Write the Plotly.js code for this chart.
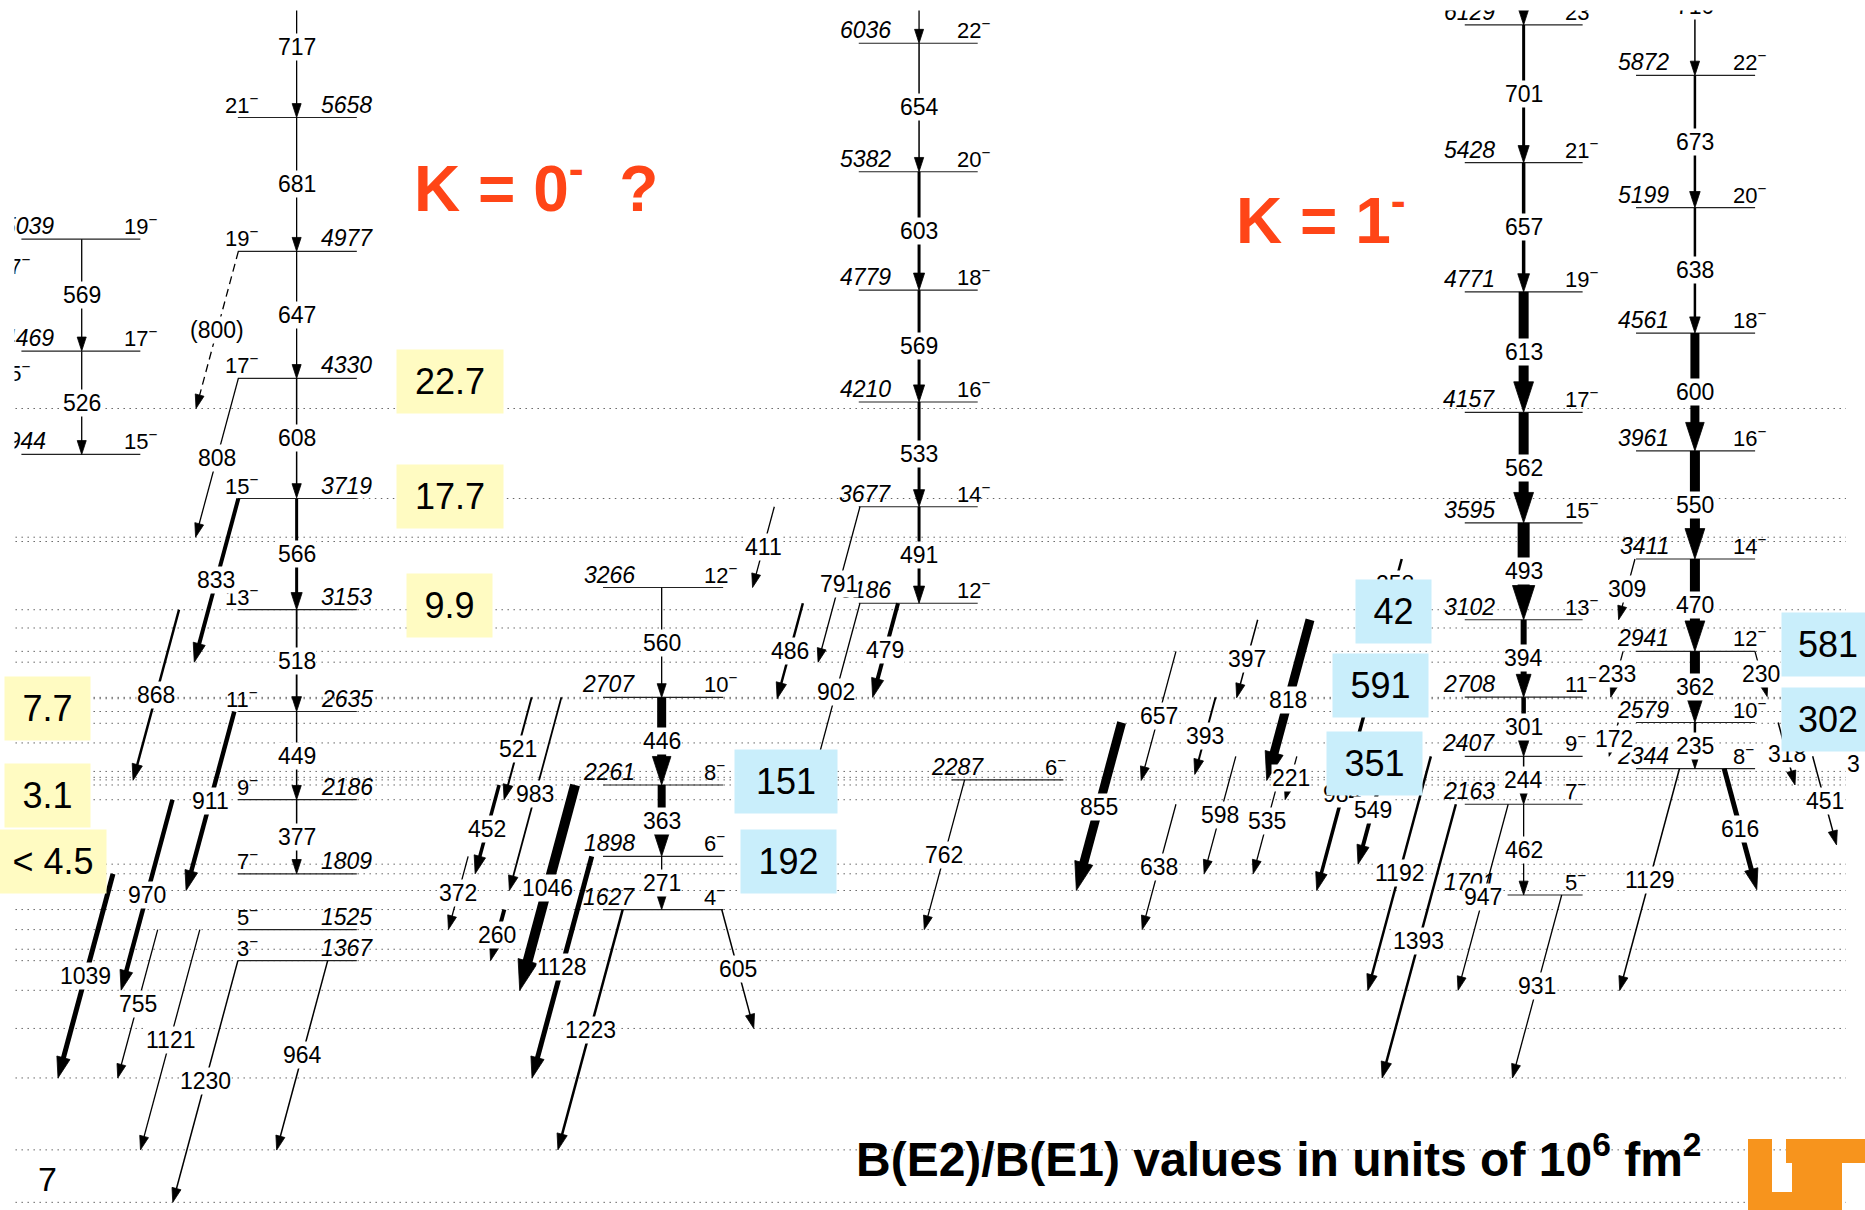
<!DOCTYPE html>
<html><head><meta charset="utf-8">
<script src="https://cdn.plot.ly/plotly-3.0.1.min.js"></script>
<style>html,body{margin:0;padding:0;background:#fff;overflow:hidden}#chart{width:1865px;height:1210px}</style>
</head><body><div id="chart"></div>
<script>
// ===================== DATA =====================
// Level energies (keV) and spins, per band
const bandA_E = [5039, 4469, 3944];
const bandA_J = [19, 17, 15];
const bandB_E = [5658, 4977, 4330, 3719, 3153, 2635, 2186, 1809, 1525, 1367];
const bandB_J = [21, 19, 17, 15, 13, 11, 9, 7, 5, 3];
const bandC_E = [3266, 2707, 2261, 1898, 1627];
const bandC_J = [12, 10, 8, 6, 4];
const bandD_E = [6036, 5382, 4779, 4210, 3677, 3186];
const bandD_J = [22, 20, 18, 16, 14, 12];
const bandE_E = [2287];
const bandE_J = [6];
const bandK1a_E = [6129, 5428, 4771, 4157, 3595, 3102, 2708, 2407, 2163, 1701];
const bandK1a_J = [23, 21, 19, 17, 15, 13, 11, 9, 7, 5];
const bandK1b_E = [5872, 5199, 4561, 3961, 3411, 2941, 2579, 2344];
const bandK1b_J = [22, 20, 18, 16, 14, 12, 10, 8];

// Gamma transitions: initial level (keV), gamma energy (keV), printed label
const gFrom = [5039,4469,
  6375,5658,4977,4330,3719,3153,2635,2186, 4977,4330,3719,3153,2635,2186,1809,1525,1525,1367,1367,
  3266,2707,2261,1898, 2707,2707,2261,1898,1627,2261,1898,1627,1627,
  6736,6036,5382,4779,4210,3677, 3677,3677,3186,3186,3186, 2287,
  2941,3102,2708,3102,2579,2407,2163,2344,2407,2708,2407,3411,2407,2163,2163,1701,2344,2344,2407,2579,2941,2941,2579,3411,
  6889,6129,5428,4771,4157,3595,3102,2708,2407,2163,
  6582,5872,5199,4561,3961,3411,2941,2579];
const gEnergy = [569,526,
  717,681,647,608,566,518,449,377, 800,808,833,868,911,970,1039,755,1121,1230,964,
  560,446,363,271, 521,983,452,372,260,1046,1128,1223,605,
  700,654,603,569,533,491, 411,791,486,479,902, 762,
  657,397,393,818,855,598,638,535,221,984,549,258,1192,1393,947,931,1129,616,451,318,230,233,172,309,
  760,701,657,613,562,493,394,301,244,462,
  710,673,638,600,550,470,362,235];
const gLabel = ['569','526',
  '717','681','647','608','566','518','449','377','(800)','808','833','868','911','970','1039','755','1121','1230','964',
  '560','446','363','271','521','983','452','372','260','1046','1128','1223','605',
  '','654','603','569','533','491','411','791','486','479','902','762',
  '657','397','393','818','855','598','638','535','221','984','549','258','1192','1393','947','931','1129','616','451','318','230','233','172','309',
  '','701','657','613','562','493','394','301','244','462',
  '710','673','638','600','550','470','362','235'];

// Energies of the dotted guide lines (final levels in other bands)
const guideLevels = [4177,3719,3522,3500,3153,3060,2941,2886,2707,2700,2635,2575,2475,2330,2300,2287,2261,2186,1858,1809,1724,1627,1525,1425,1367,1216,1022,770,404,137];

// B(E2)/B(E1) values (units of 10^6 fm^2)
const ratioText  = ['22.7','17.7','9.9','7.7','3.1','< 4.5','151','192','42','591','351','581','302'];
const ratioLevel = [4315, 3730, 3176, 2649, 2209, 1873, 2280, 1873, 3145, 2768, 2371, 2974, 2592];

// ===================== LAYOUT / STYLE (positions, widths) =====================
const FONT = '"Liberation Sans", Arial, Helvetica, sans-serif';
const SLOPE = 0.0445;          // horizontal drift of tilted transitions (x units per keV)
const E_RANGE = [98, 6256];
const X_RANGE = [0, 1568];

const bands = [
 {E:bandA_E, J:bandA_J, x0:18, x1:118, eX:[46,46,39.5], eAnc:'right', jX:103, jAnc:'left'},
 {E:bandB_E, J:bandB_J, x0:200, x1:300, eX:269, eAnc:'left', jX:218, jAnc:'right'},
 {E:bandC_E, J:bandC_J, x0:507, x1:608, eX:535, eAnc:'right', jX:591, jAnc:'left'},
 {E:bandD_E, J:bandD_J, x0:722, x1:822, eX:750, eAnc:'right', jX:804, jAnc:'left'},
 {E:bandE_E, J:bandE_J, x0:800, x1:894, eX:828, eAnc:'right', jX:878, jAnc:'left'},
 {E:bandK1a_E, J:bandK1a_J, x0:[1231.5,1231.5,1231.5,1231.5,1231.5,1231.5,1231.5,1231.5,1231.5,1267.5], x1:1330.6, eX:1258, eAnc:'right', jX:1315, jAnc:'left'},
 {E:bandK1b_E, J:bandK1b_J, x0:1375.5, x1:1475.6, eX:1404, eAnc:'right', jX:1456, jAnc:'left'}
];

// start x of each transition, direction (0 vertical, -1 down-left, +1 down-right), line width (px)
const gX = [68.7,68.7,
  249.4,249.4,249.4,249.4,249.4,249.4,249.4,249.4, 200.4,200.4,200.4,150.5,197,145,95,132.6,168,200,275.5,
  556.3,556.3,556.3,556.3, 447,472,419.6,393.6,424,483.5,497.5,523.5,606.8,
  772.7,772.7,772.7,772.7,772.7,772.7, 651,723,675,755,723, 811,
  988.7,1057.4,1022,1101.4,943,1039,988.7,1077.4,1090.3,1150.8,1166.2,1178.5,1203,1224,1268,1313,1412,1449.6,1524,1495,1475.5,1364.6,1360.5,1374.6,
  1281,1281,1281,1281,1281,1281,1281,1281,1281,1281,
  1425,1425,1425,1425,1425,1425,1425,1425];
const gDir = [0,0,
  0,0,0,0,0,0,0,0, -1,-1,-1,-1,-1,-1,-1,-1,-1,-1,-1,
  0,0,0,0, -1,-1,-1,-1,-1,-1,-1,-1,1,
  0,0,0,0,0,0, -1,-1,-1,-1,-1, -1,
  -1,-1,-1,-1,-1,-1,-1,-1,-1,-1,-1,-1,-1,-1,-1,-1,-1,1,1,1,1,-1,-1,-1,
  0,0,0,0,0,0,0,0,0,0,
  0,0,0,0,0,0,0,0];
const gW = [1.3,1.3,
  1.3,1.3,1.3,1.5,3,1.8,1.5,1.5, 1.3,1.3,4,2.5,4.5,4.5,5,1.3,1.3,1.5,1.5,
  1.3,9,8,1.3, 2,1.8,3.5,1.3,4,10,5,2.5,1.5,
  1.3,1.5,3,3,3,3, 1.3,1.3,2.5,4,1.3, 1.3,
  1.3,1.5,2,9,9,1.3,1.3,1.3,1.3,3.5,4,2.5,2.5,2.5,1.3,1.3,1.5,5,1.5,1.5,1.3,1.3,1.3,1.3,
  3,3,3.5,10,10,12,6,4.5,1.5,1.3,
  1.5,2.5,2.5,9,10,10,10,2.5];
const gDashed = gLabel.map(l => l === '(800)');

const boxColor = ['#fffbc2','#fffbc2','#fffbc2','#fffbc2','#fffbc2','#fffbc2','#c9eefb','#c9eefb','#c9eefb','#c9eefb','#c9eefb','#c9eefb','#c9eefb'];
const boxX = [378,378,378,40,40,44.6,660.7,663,1172,1160.5,1156,1537,1537];
const boxW = [106,106,85,85,85,106,102,95,75,95,95,92,92];

// ===================== BUILD =====================
const shapes = [];
const annotations = [];
const guideStart = guideLevels.map(E => E === 3719 ? 300 : 13);
guideLevels.forEach((E,i) => shapes.push({type:'line', xref:'x', yref:'y', x0:guideStart[i], x1:1552, y0:E, y1:E,
  line:{color:'#666', width:1, dash:'1.5px,4.5px'}, layer:'below'}));

bands.forEach(b => {
  b.E.forEach((E,i) => {
    const x0 = Array.isArray(b.x0) ? b.x0[i] : b.x0;
    shapes.push({type:'line', xref:'x', yref:'y', x0:x0, x1:b.x1, y0:E, y1:E, line:{color:'#222', width:1.2}, layer:'below'});
    const eX = Array.isArray(b.eX) ? b.eX[i] : b.eX;
    annotations.push({x:eX, y:E, xref:'x', yref:'y', text:'<i>'+E+'</i>', showarrow:false, xanchor:b.eAnc, yanchor:'bottom',
      yshift:-1, font:{family:FONT, size:23, color:'#000'}, borderpad:0});
    annotations.push({x:b.jX, y:E, xref:'x', yref:'y', text:b.J[i]+'<sup>−</sup>', showarrow:false, xanchor:b.jAnc, yanchor:'bottom',
      yshift:-1, font:{family:FONT, size:22, color:'#000'}, borderpad:0});
  });
});
// spin labels of a band cut off by the left border
[[4826,'17'],[4282,'15']].forEach(p => annotations.push({x:27, y:p[0], xref:'x', yref:'y', text:p[1]+'<sup>−</sup>', showarrow:false,
  xanchor:'right', yanchor:'bottom', font:{family:FONT, size:22, color:'#000'}}));

const traces = [];
gFrom.forEach((f,i) => {
  const eg = gEnergy[i], x0 = gX[i], x1 = x0 + gDir[i]*SLOPE*eg, y1 = f - eg, w = gW[i];
  const s = 12 + 2*w;
  traces.push({type:'scatter', mode:'lines+markers', x:[x0,x1], y:[f,y1], hoverinfo:'skip', showlegend:false, cliponaxis:false,
    opacity:1,
    line:{color:'#000', width:w, dash: gDashed[i] ? '8px,5px' : 'solid'},
    marker:{symbol:['circle','arrow'], size:[0,s], angleref:'previous', color:'#000', opacity:1, line:{width:0.8, color:'#000'}}});
  if (gLabel[i]) annotations.push({x:(x0+x1)/2, y:f-eg/2, xref:'x', yref:'y', text:gLabel[i], showarrow:false,
    xanchor:'center', yanchor:'middle', bgcolor:'#fff', borderpad:0, font:{family:FONT, size:23, color:'#000'}});
});

// fragment of a label cut by right border
annotations.push({x:1551, y:2370, xref:'x', yref:'y', text:'3', showarrow:false, xanchor:'left', yanchor:'middle', font:{family:FONT, size:23, color:'#000'}});
// white margins of the original figure (left edge of the first band, top edge)
annotations.push({x:5.9, y:4627, xref:'x', yref:'y', text:'\u00a0', showarrow:false, width:14, height:290, bgcolor:'#fff', borderpad:0});
annotations.push({x:784, y:6230, xref:'x', yref:'y', text:'\u00a0', showarrow:false, width:1865, height:10, bgcolor:'#fff', borderpad:0});

ratioText.forEach((t,i) => annotations.push({x:boxX[i], y:ratioLevel[i], xref:'x', yref:'y', text:t, showarrow:false,
  width:boxW[i], height:63, bgcolor:boxColor[i], borderpad:0, xanchor:'center', yanchor:'middle', align:'center', valign:'middle',
  font:{family:FONT, size:36, color:'#000'}}));

const RED = '#ff4517';
annotations.push({x:412/1865, y:1-184/1210, xref:'paper', yref:'paper', text:'<b>K = 0<sup>-</sup>\u00a0 ?</b>', showarrow:false,
  xanchor:'left', yanchor:'middle', font:{family:FONT, size:64, color:RED}});
annotations.push({x:1234/1865, y:1-216/1210, xref:'paper', yref:'paper', text:'<b>K = 1<sup>-</sup></b>', showarrow:false,
  xanchor:'left', yanchor:'middle', font:{family:FONT, size:64, color:RED}});
annotations.push({x:1279/1865, y:1-1156/1210, xref:'paper', yref:'paper', text:'<b>B(E2)/B(E1) values in units of 10<sup>6</sup> fm<sup>2</sup></b>',
  showarrow:false, xanchor:'center', yanchor:'middle', font:{family:FONT, size:48, color:'#000'}});
annotations.push({x:47/1865, y:1-1179/1210, xref:'paper', yref:'paper', text:'7', showarrow:false, xanchor:'center', yanchor:'middle',
  font:{family:FONT, size:34, color:'#000'}});

// UT logo (decoration, paper coordinates from pixel outline)
function P(pts){ return 'M' + pts.map(p => (p[0]/1865).toFixed(5)+','+(1-p[1]/1210).toFixed(5)).join('L') + 'Z'; }
shapes.push({type:'path', xref:'paper', yref:'paper', layer:'above', fillcolor:'#f7941d', line:{width:0},
  path: P([[1748,1139],[1772,1139],[1772,1192],[1792,1192],[1792,1163],[1786,1163],[1786,1139],[1865,1139],[1865,1163],
           [1842,1163],[1842,1210],[1748,1210]])});

const layout = {
  width:1865, height:1210, margin:{l:0,r:0,t:0,b:0}, showlegend:false,
  paper_bgcolor:'#fff', plot_bgcolor:'#fff',
  xaxis:{range:X_RANGE, visible:false, fixedrange:true},
  yaxis:{range:E_RANGE, visible:false, fixedrange:true},
  shapes:shapes, annotations:annotations
};
Plotly.newPlot('chart', traces, layout, {staticPlot:true, displayModeBar:false});
</script></body></html>
